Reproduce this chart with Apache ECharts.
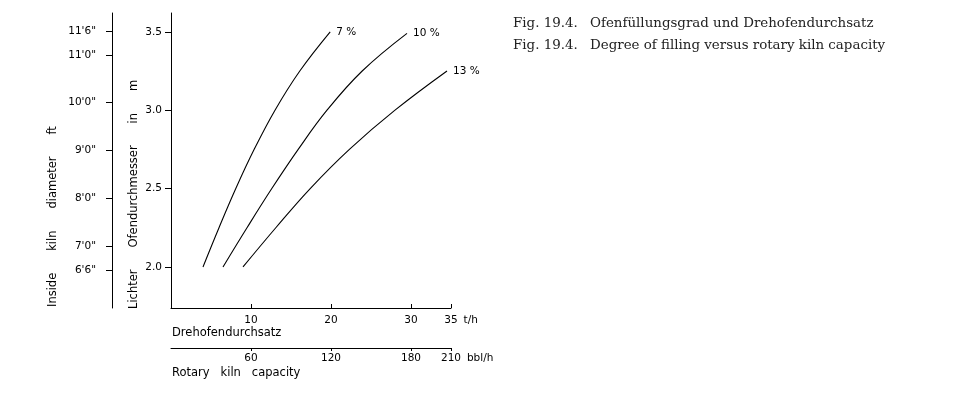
<!DOCTYPE html>
<html>
<head>
<meta charset="utf-8">
<script src="https://cdn.jsdelivr.net/npm/echarts@6/dist/echarts.min.js"></script>
<style>html,body{margin:0;padding:0;background:#fff}#c{width:961px;height:396px}</style>
</head>
<body>
<div id="c"></div>
<script>
// Curves: kiln capacity (t/h) vs inside diameter (m)
const cap7  = [4.0, 6.0, 8.1, 10.4, 13.0, 16.1, 19.9];
const dia7  = [2.0, 2.25, 2.5, 2.75, 3.0, 3.25, 3.5];
const cap10 = [6.5, 9.5, 12.6, 15.9, 19.5, 23.9, 29.5];
const dia10 = [2.0, 2.25, 2.5, 2.75, 3.0, 3.25, 3.49];
const cap13 = [9.0, 13.1, 17.4, 22.3, 28.0, 34.5];
const dia13 = [2.0, 2.25, 2.5, 2.75, 3.0, 3.25];
const curveNames = ['7 %', '10 %', '13 %'];

// Axis ticks
const thTicks = [10, 20, 30, 35];
const bblTicks = [60, 120, 180, 210];
const mTicks = [2.0, 2.5, 3.0, 3.5];
const ftTicks = [6.5, 7, 8, 9, 10, 11, 11.5];
const ftLabels = ['6\'6"', '7\'0"', '8\'0"', '9\'0"', '10\'0"', '11\'0"', '11\'6"'];

const M_MIN = 1.738, M_MAX = 3.62;
const FT_PER_M = 1 / 0.3048;

const tickFont = {fontFamily: 'DejaVu Sans', fontSize: 10.5, color: '#000'};
const blackLine = {show: true, lineStyle: {color: '#000', width: 1}};
const FONT = '11.5px "DejaVu Sans"';
const SERIF = '13.4px "DejaVu Serif"';
const GAP = '      ';

function pairs(xs, ys) { return xs.map((x, i) => [x, ys[i]]); }

const chart = echarts.init(document.getElementById('c'), null, {renderer: 'canvas'});

function mkSeries(name, xs, ys) {
  return {
    type: 'line', name: name, data: pairs(xs, ys), smooth: 0.4,
    symbol: 'none', xAxisIndex: 0, yAxisIndex: 0,
    lineStyle: {color: '#000', width: 1.1}, silent: true, animation: false,
    endLabel: {show: true, formatter: name, color: '#000', fontFamily: 'DejaVu Sans', fontSize: 10.5, distance: 6}
  };
}

function txt(x, y, text, font, rot, color) {
  const el = {type: 'text', x: x, y: y, silent: true,
    style: {text: text, fill: color || '#000', font: font, textAlign: 'left', textVerticalAlign: 'middle', align: 'left', verticalAlign: 'middle'}};
  if (rot) el.rotation = rot;
  return el;
}

const option = {
  animation: false,
  grid: [
    {left: 171, right: 510, top: 13, bottom: 88, outerBoundsMode: 'none', containLabel: false},
    {left: 112, width: 40, top: 13, bottom: 88, outerBoundsMode: 'none', containLabel: false}
  ],
  xAxis: [
    {
      type: 'value', gridIndex: 0, min: 0, max: 35, position: 'bottom',
      axisLine: blackLine, splitLine: {show: false},
      axisTick: {show: true, inside: true, length: 4, lineStyle: {color: '#000'}, customValues: thTicks},
      axisLabel: Object.assign({margin: 7, customValues: thTicks}, tickFont),
      name: 't/h', nameLocation: 'end', nameGap: 9,
      nameTextStyle: Object.assign({verticalAlign: 'top', padding: [7, 0, 0, 0]}, tickFont)
    },
    {
      type: 'value', gridIndex: 0, min: 0, max: 210, position: 'bottom', offset: 40,
      axisLine: blackLine, splitLine: {show: false},
      axisTick: {show: true, inside: false, length: 3, lineStyle: {color: '#000'}, customValues: bblTicks},
      axisLabel: Object.assign({margin: 5, customValues: bblTicks}, tickFont),
      name: 'bbl/h', nameLocation: 'end', nameGap: 2,
      nameTextStyle: Object.assign({verticalAlign: 'top', padding: [5, 0, 0, 0]}, tickFont)
    },
    {
      type: 'value', gridIndex: 1, min: 0, max: 1, show: false
    }
  ],
  yAxis: [
    {
      type: 'value', gridIndex: 0, min: M_MIN, max: M_MAX, position: 'left',
      axisLine: blackLine, splitLine: {show: false},
      axisTick: {show: true, length: 6, lineStyle: {color: '#000'}, customValues: mTicks},
      axisLabel: Object.assign({margin: 9, customValues: mTicks, formatter: v => v.toFixed(1)}, tickFont)
    },
    {
      type: 'value', gridIndex: 1, min: M_MIN * FT_PER_M, max: M_MAX * FT_PER_M, position: 'left',
      axisLine: blackLine, splitLine: {show: false},
      axisTick: {show: true, length: 6, lineStyle: {color: '#000'}, customValues: ftTicks},
      axisLabel: Object.assign({margin: 16, customValues: ftTicks,
        formatter: v => { const i = ftTicks.findIndex(t => Math.abs(t - v) < 1e-6); return i >= 0 ? ftLabels[i] : ''; }}, tickFont)
    }
  ],
  series: [
    mkSeries(curveNames[0], cap7, dia7),
    mkSeries(curveNames[1], cap10, dia10),
    mkSeries(curveNames[2], cap13, dia13)
  ],
  graphic: [
    txt(172, 333, 'Drehofendurchsatz', FONT),
    txt(172, 373, 'Rotary   kiln   capacity', FONT),
    txt(134, 309, ['Lichter', 'Ofendurchmesser', 'in', 'm'].join(GAP), FONT, Math.PI / 2),
    txt(53, 307, ['Inside', 'kiln', 'diameter', 'ft'].join(GAP), FONT, Math.PI / 2),
    txt(513, 24, 'Fig. 19.4.', SERIF, 0, '#222'),
    txt(590, 24, 'Ofenfüllungsgrad und Drehofendurchsatz', SERIF, 0, '#222'),
    txt(513, 46, 'Fig. 19.4.', SERIF, 0, '#222'),
    txt(590, 46, 'Degree of filling versus rotary kiln capacity', SERIF, 0, '#222')
  ]
};
chart.setOption(option);
</script>
</body>
</html>
